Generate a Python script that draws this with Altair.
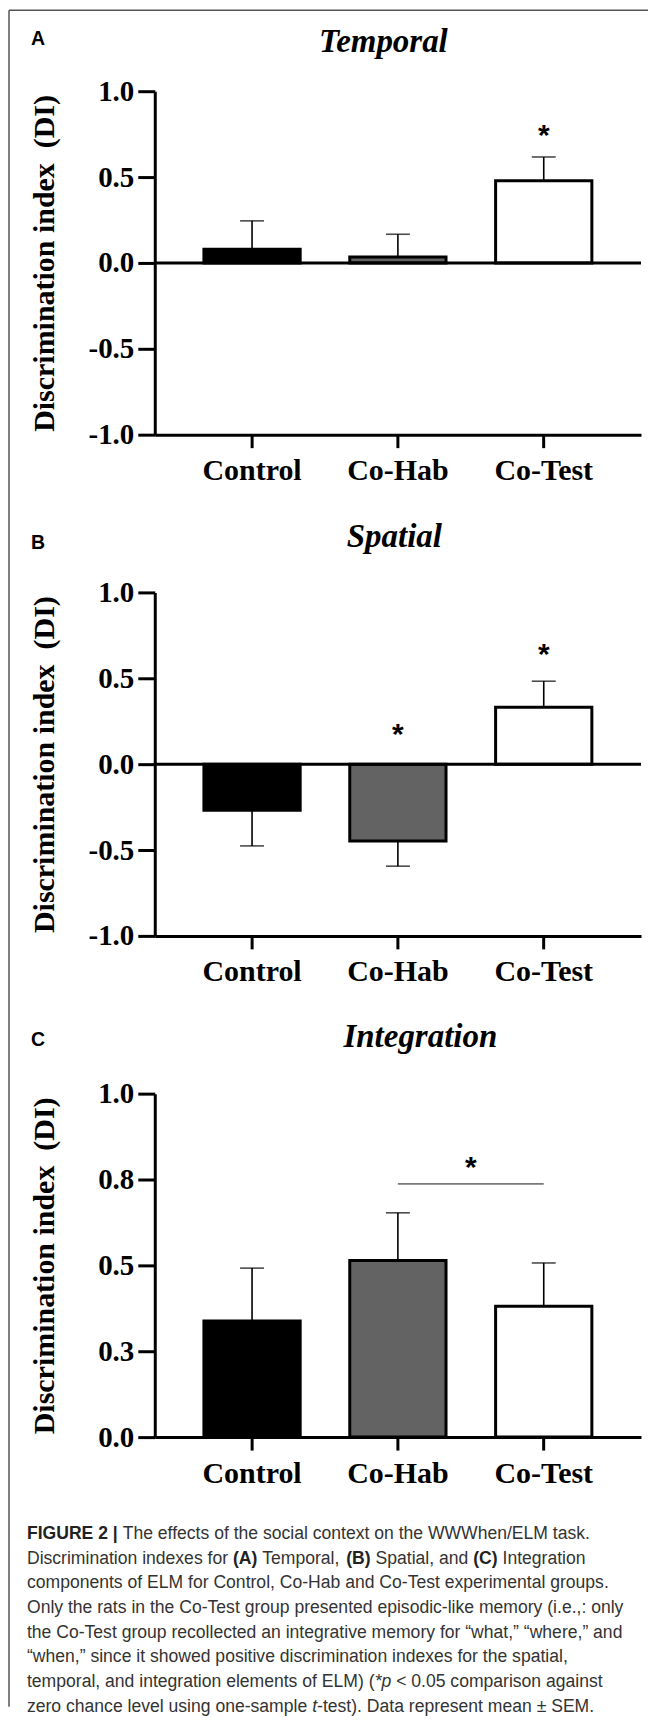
import altair as alt
import pandas as pd

# ---------------- data ----------------
categories = ["Control", "Co-Hab", "Co-Test"]
bar_colors = ["#000000", "#636363", "#ffffff"]

temporal_mean = [0.08, 0.035, 0.478]
temporal_sem = [0.165, 0.132, 0.139]
spatial_mean = [-0.268, -0.447, 0.332]
spatial_sem = [0.208, 0.147, 0.151]
integration_mean = [0.338, 0.514, 0.381]
integration_sem = [0.154, 0.139, 0.126]

temporal_star_groups = ["Co-Test"]
temporal_star_y = [0.785]
spatial_star_groups = ["Co-Hab", "Co-Test"]
spatial_star_y = [0.214, 0.68]
integration_bracket_from = ["Co-Hab"]
integration_bracket_to = ["Co-Test"]
integration_bracket_y = [0.737]
integration_star_y = [0.807]

ticks_pm = [-1.0, -0.5, 0.0, 0.5, 1.0]
tick_labels_pm = ["-1.0", "-0.5", "0.0", "0.5", "1.0"]
ticks_pos = [0.0, 0.25, 0.5, 0.75, 1.0]
tick_labels_pos = ["0.0", "0.3", "0.5", "0.8", "1.0"]

panel_titles = ["Temporal", "Spatial", "Integration"]
panel_letters = ["A", "B", "C"]
y_title = "Discrimination index \u00a0(DI)"

caption_lines = [
    [("b", "FIGURE 2 |"), ("r", " The effects of the social context on the WWWhen/ELM task.")],
    [("r", "Discrimination indexes for "), ("b", "(A)"), ("r", " Temporal, "), ("b", "(B)"),
     ("r", " Spatial, and "), ("b", "(C)"), ("r", " Integration")],
    [("r", "components of ELM for Control, Co-Hab and Co-Test experimental groups.")],
    [("r", "Only the rats in the Co-Test group presented episodic-like memory (i.e.,: only")],
    [("r", "the Co-Test group recollected an integrative memory for \u201cwhat,\u201d \u201cwhere,\u201d and")],
    [("r", "\u201cwhen,\u201d since it showed positive discrimination indexes for the spatial,")],
    [("r", "temporal, and integration elements of ELM) ("), ("i", "*p"), ("r", " < 0.05 comparison against")],
    [("r", "zero chance level using one-sample "), ("i", "t"), ("r", "-test). Data represent mean \u00b1 SEM.")],
]

# ---------------- styling / layout ----------------
W, H = 487, 344
SPACING = 158
SERIF = "Liberation Serif"
SANS = "Liberation Sans"
CAP_FS = 17.6
CAP_LINE_FIRST = -56
CAP_LINE_STEP = 24.7
CAP_H = 112
CAP_X0 = -128

# Arial / Liberation Sans advance widths (1/1000 em)
REG = {' ': 278, '!': 278, '(': 333, ')': 333, '*': 389, ',': 278, '-': 333, '.': 278, '/': 278,
       ':': 278, ';': 278, '<': 584, '>': 584, '\u201c': 333, '\u201d': 333, '\u00b1': 549,
       'A': 667, 'B': 667, 'C': 722, 'D': 722, 'E': 667, 'F': 611, 'G': 778, 'H': 722, 'I': 278,
       'J': 500, 'K': 667, 'L': 556, 'M': 833, 'N': 722, 'O': 778, 'P': 667, 'Q': 778, 'R': 722,
       'S': 667, 'T': 611, 'U': 722, 'V': 667, 'W': 944, 'X': 667, 'Y': 667, 'Z': 611,
       'a': 556, 'b': 556, 'c': 500, 'd': 556, 'e': 556, 'f': 278, 'g': 556, 'h': 556, 'i': 222,
       'j': 222, 'k': 500, 'l': 222, 'm': 833, 'n': 556, 'o': 556, 'p': 556, 'q': 556, 'r': 333,
       's': 500, 't': 278, 'u': 556, 'v': 500, 'w': 722, 'x': 500, 'y': 500, 'z': 500}
BOLD = {' ': 278, '(': 333, ')': 333, '|': 280, '2': 556, 'A': 722, 'B': 722, 'C': 722,
        'E': 667, 'F': 611, 'G': 778, 'I': 278, 'R': 722, 'U': 722}


def tw(s, kind):
    table = BOLD if kind == "b" else REG
    return sum(table.get(ch, 556) for ch in s) * CAP_FS / 1000.0


def label_expr(vals, labels):
    parts = [f"abs(datum.value - ({v})) < 0.001 ? '{l}'" for v, l in zip(vals, labels)]
    return " : ".join(parts) + " : ''"


def panel(mean, sem, domain, ticks, tick_labels, title, letter, title_x, title_base, letter_base,
          star_groups=None, star_y=None, bracket=None, bracket_star_y=None, zero_line=False):
    df = pd.DataFrame({"group": categories, "mean": mean, "sem": sem})
    df["end"] = [m + (s if m >= 0 else -s) for m, s in zip(mean, sem)]
    df["zero"] = 0.0

    xscale = alt.Scale(domain=categories, paddingInner=0.34, paddingOuter=0.337)
    xaxis = alt.Axis(title=None, labelAngle=0, labelFont=SERIF, labelFontWeight="bold",
                     labelFontSize=30, labelColor="black", labelPadding=8, tickSize=13,
                     tickWidth=3, tickColor="black", domainWidth=3, domainColor="black",
                     grid=False)
    yscale = alt.Scale(domain=domain, nice=False, zero=False)
    yaxis = alt.Axis(values=ticks, labelExpr=label_expr(ticks, tick_labels), title=y_title,
                     titleFont=SERIF, titleFontSize=30, titleFontWeight="bold", titleColor="black",
                     titleAngle=270, titleX=-110, titleY=H / 2, titleAlign="center",
                     titleBaseline="middle", labelFont=SERIF, labelFontSize=29,
                     labelFontWeight="bold", labelColor="black", labelPadding=4, tickSize=17,
                     tickWidth=3, tickColor="black", domainWidth=3, domainColor="black",
                     grid=False)

    X = lambda f: alt.X(f, scale=xscale, axis=xaxis, sort=categories)
    Y = lambda f: alt.Y(f, scale=yscale, axis=yaxis)

    base = alt.Chart(df)
    err = base.mark_rule(color="black", strokeWidth=1.6).encode(
        x=X("group:N"), y=Y("mean:Q"), y2="end:Q")
    cap = base.mark_tick(color="black", thickness=1.6, size=24).encode(
        x=X("group:N"), y=Y("end:Q"))
    bars = base.mark_bar(stroke="black", strokeWidth=3).encode(
        x=X("group:N"), y=Y("mean:Q"), y2="zero:Q",
        color=alt.Color("group:N", scale=alt.Scale(domain=categories, range=bar_colors),
                        legend=None))
    layers = [err, cap, bars]

    if zero_line:
        zl = alt.Chart(pd.DataFrame({"z": [0.0]})).mark_rule(color="black", strokeWidth=3).encode(
            y=Y("z:Q"))
        layers.append(zl)

    if star_groups:
        sdf = pd.DataFrame({"group": star_groups, "y": star_y})
        stars = alt.Chart(sdf).mark_text(text="*", font=SANS, fontSize=30, fontWeight="bold",
                                         baseline="alphabetic", dy=17, color="black").encode(
            x=X("group:N"), y=Y("y:Q"))
        layers.append(stars)

    if bracket:
        bdf = pd.DataFrame({"g1": bracket[0], "g2": bracket[1], "y": bracket[2]})
        br = alt.Chart(bdf).mark_rule(color="#7a7a7a", strokeWidth=1.7).encode(
            x=X("g1:N"), x2="g2:N", y=Y("y:Q"))
        bsdf = pd.DataFrame({"group": bracket[0], "y": bracket_star_y})
        bs = alt.Chart(bsdf).mark_text(text="*", font=SANS, fontSize=30, fontWeight="bold",
                                       baseline="alphabetic", dy=17, dx=73, color="black").encode(
            x=X("group:N"), y=Y("y:Q"))
        layers += [br, bs]

    tdf = pd.DataFrame({"t": [title]})
    ttl = alt.Chart(tdf).mark_text(font=SERIF, fontSize=33, fontWeight="bold", fontStyle="italic",
                                   align="center", baseline="alphabetic", color="black").encode(
        x=alt.value(title_x), y=alt.value(title_base), text="t:N")
    ldf = pd.DataFrame({"t": [letter]})
    let = alt.Chart(ldf).mark_text(font=SANS, fontSize=19.5, fontWeight="bold", align="left",
                                   baseline="alphabetic", color="black").encode(
        x=alt.value(-124), y=alt.value(letter_base), text="t:N")
    layers += [ttl, let]

    return alt.layer(*layers).properties(width=W, height=H)


pA = panel(temporal_mean, temporal_sem, [-1, 1], ticks_pm, tick_labels_pm, panel_titles[0],
           panel_letters[0], 229, -39, -46, star_groups=temporal_star_groups,
           star_y=temporal_star_y, zero_line=True)
pB = panel(spatial_mean, spatial_sem, [-1, 1], ticks_pm, tick_labels_pm, panel_titles[1],
           panel_letters[1], 240, -45, -43, star_groups=spatial_star_groups,
           star_y=spatial_star_y, zero_line=True)
pC = panel(integration_mean, integration_sem, [0, 1], ticks_pos, tick_labels_pos, panel_titles[2],
           panel_letters[2], 266, -47, -48,
           bracket=(integration_bracket_from, integration_bracket_to, integration_bracket_y),
           bracket_star_y=integration_star_y)

# ---------------- caption ----------------
rows = []
for li, segs in enumerate(caption_lines):
    cum = 0.0
    for kind, txt in segs:
        start = cum
        stripped = txt.lstrip(" ")
        start += tw(txt[: len(txt) - len(stripped)], kind)
        rows.append({"line": li, "xo": CAP_X0 + start, "text": stripped, "kind": kind})
        cum += tw(txt, kind)
cdf = pd.DataFrame(rows)

cy = alt.Y("line:Q", axis=None,
           scale=alt.Scale(domain=[0, len(caption_lines) - 1],
                           range=[CAP_LINE_FIRST,
                                  CAP_LINE_FIRST + CAP_LINE_STEP * (len(caption_lines) - 1)]))
cx = alt.X("xo:Q", scale=None, axis=None)
cap_base = alt.Chart(cdf)
cap_reg = cap_base.transform_filter(alt.datum.kind == "r").mark_text(
    font=SANS, fontSize=CAP_FS, align="left", baseline="alphabetic", color="#333333").encode(
    x=cx, y=cy, text="text:N")
cap_bold = cap_base.transform_filter(alt.datum.kind == "b").mark_text(
    font=SANS, fontSize=CAP_FS, fontWeight="bold", align="left", baseline="alphabetic",
    color="#222222").encode(x=cx, y=cy, text="text:N")
cap_it = cap_base.transform_filter(alt.datum.kind == "i").mark_text(
    font=SANS, fontSize=CAP_FS, fontStyle="italic", align="left", baseline="alphabetic",
    color="#333333").encode(x=cx, y=cy, text="text:N")

FRAME_TOP = -(3 * H + 3 * SPACING + 89 - 8)
frame_df = pd.DataFrame({"f": [0]})
frame_left = alt.Chart(frame_df).mark_rule(color="#555555", strokeWidth=1.5).encode(
    x=alt.value(-146), y=alt.value(FRAME_TOP), y2=alt.value(CAP_H))
frame_top = alt.Chart(frame_df).mark_rule(color="#555555", strokeWidth=1.5).encode(
    x=alt.value(-146), x2=alt.value(494), y=alt.value(FRAME_TOP))

pCap = alt.layer(cap_reg, cap_bold, cap_it, frame_left, frame_top).properties(width=W, height=CAP_H)

chart = alt.vconcat(pA, pB, pC, pCap, spacing=SPACING, bounds="flush").properties(
    padding=0, background="white").configure_view(stroke=None)

chart.save("out.html", embed_options={"renderer": "svg", "actions": False})
